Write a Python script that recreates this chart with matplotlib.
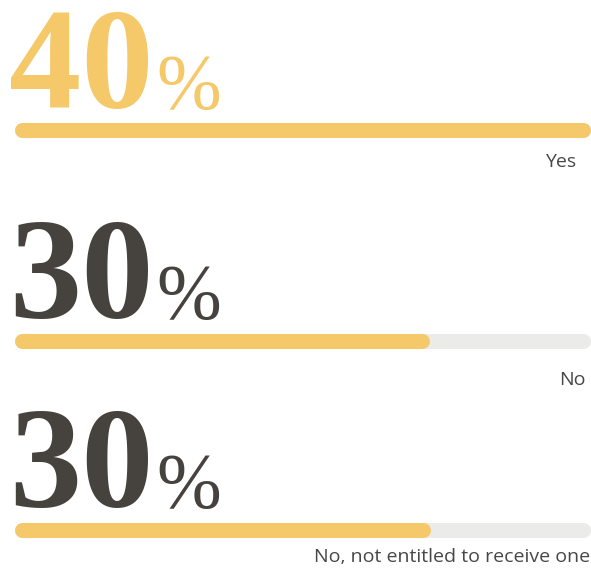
import matplotlib
matplotlib.use("Agg")
import matplotlib.pyplot as plt

labels = ["Yes", "No", "No, not entitled to receive one"]
values = [40.2, 29.0, 29.1]
shown = ["40", "30", "30"]

gold = "#F5C869"
dark = "#46423D"
track = "#EBEBEA"

W, H = 591, 569
fig = plt.figure(figsize=(W / 100, H / 100), dpi=100)
ax = fig.add_axes([0, 0, 1, 1])
ax.set_xlim(0, W)
ax.set_ylim(H, 0)
ax.axis("off")

x0, x1 = 14, 590
lw_px = 15
cap = lw_px / 2
bar_y = [129.5, 340.5, 529.5]
num_base = [108, 318, 507]
lab_y = [162, 380, 557]
lab_x = [576, 586, 590]

vmax = max(values)
fig.canvas.draw()
r = fig.canvas.get_renderer()

for i, (lab, v, s) in enumerate(zip(labels, values, shown)):
    y = bar_y[i]
    # grey track, then the filled part
    ax.plot([x0 + cap, x1 - cap], [y, y], color=track, lw=lw_px * 0.72,
            solid_capstyle="round")
    end = x0 + v / vmax * (x1 - x0)
    ax.plot([x0 + cap, end - cap], [y, y], color=gold, lw=lw_px * 0.72,
            solid_capstyle="round")

    c = gold if i == 0 else dark
    t = ax.text(9, num_base[i], s, fontsize=104, fontweight="bold",
                family="Liberation Serif", color=c, va="baseline", ha="left")
    bb = t.get_window_extent(renderer=r)
    ax.text(bb.x1 + 3, num_base[i], "%", fontsize=56,
            family="Liberation Serif", color=c, va="baseline", ha="left")

    ax.text(lab_x[i], lab_y[i], lab, fontsize=14, family="Open Sans",
            color="#474747", ha="right", va="center")

fig.savefig("out.png", dpi=100)
